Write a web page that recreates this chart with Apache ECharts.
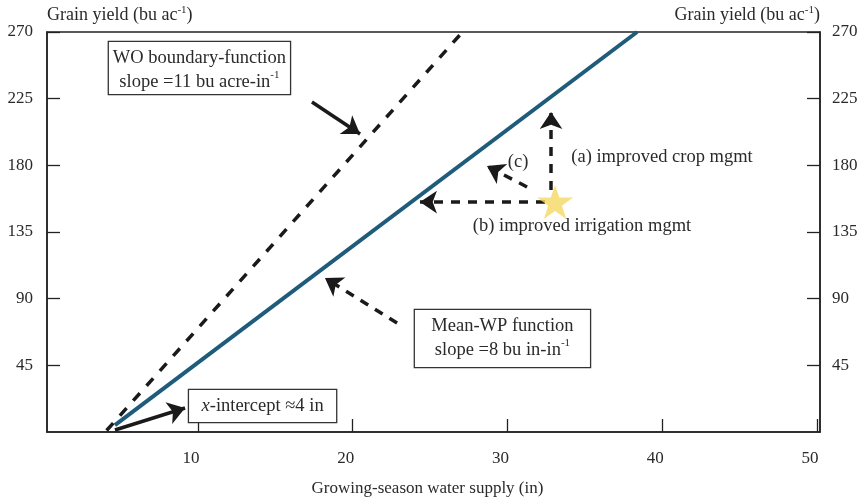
<!DOCTYPE html>
<html>
<head>
<meta charset="utf-8">
<script src="https://cdn.jsdelivr.net/npm/echarts@6/dist/echarts.min.js"></script>
<style>html,body{margin:0;padding:0;background:#fff;}#c{width:863px;height:501px;}</style>
</head>
<body>
<div id="c"></div>
<script>
// ---- data ----
var xTicks = [10, 20, 30, 40, 50];
var yTicks = [45, 90, 135, 180, 225, 270];
var meanWP = [[4.64, 4.7], [38.38, 270]];          // Mean-WP function (solid)
var woBoundary = [[4.1, 1], [27.1, 270]];          // WO boundary function (dashed)
var starPoint = [[33.08, 155.2]];                  // current yield point
// arrows: [from, to]
var arrowA = [[32.82, 163.3], [32.82, 216]];
var arrowB = [[32.43, 155.2], [24.35, 155.2]];
var arrowC = [[31.27, 165.4], [28.68, 179.5]];
var arrowMean = [[22.87, 73.6], [18.21, 103.9]];
var arrowWO = [[17.37, 222.7], [20.48, 201.1]];
var arrowXint = [[4.64, 1.35], [9.17, 16.2]];
// annotation anchor points
var boxWO = [10.1, 245.7];
var boxMean = [29.68, 63.1];
var boxXint = [14.18, 17.5];
var textA = [39.99, 185.6];
var textB = [34.82, 139.0];
var textC = [30.69, 182.2];

var FONT = '"Liberation Serif", "DejaVu Serif", serif';
var TC = '#2a2a2a';
var AF = 18.5;
var supRich = {
  sup: { fontSize: 11, fontFamily: FONT, color: TC, verticalAlign: 'top', lineHeight: 12 },
  it: { fontSize: AF, fontFamily: FONT, color: TC, fontStyle: 'italic' }
};

var chart = echarts.init(document.getElementById('c'), null, { renderer: 'canvas' });

function arrowSeries(pts, dashed) {
  return {
    type: 'lines', coordinateSystem: 'cartesian2d', silent: true, z: 5,
    symbol: ['none', 'arrow'], symbolSize: [0, 17],
    lineStyle: { color: '#1a1a1a', width: 3.5, type: dashed ? [9, 8] : 'solid', opacity: 1 },
    data: [{ coords: pts }]
  };
}

function boxLabel(coord, text, w, h) {
  return {
    coord: coord, symbol: 'rect', symbolSize: 0,
    label: {
      show: true, position: 'inside', formatter: text,
      width: w, height: h, align: 'center', verticalAlign: 'middle', padding: [4, 7],
      fontFamily: FONT, fontSize: AF, color: TC, lineHeight: 24,
      backgroundColor: '#fff', borderColor: '#333', borderWidth: 1.3,
      rich: supRich
    }
  };
}
function plainLabel(coord, text) {
  return {
    coord: coord, symbol: 'rect', symbolSize: 0,
    label: {
      show: true, position: 'inside', formatter: text,
      fontFamily: FONT, fontSize: AF, color: TC, rich: supRich
    }
  };
}

var option = {
  animation: false,
  backgroundColor: '#fff',
  grid: { left: 47, right: 43, top: 32, bottom: 69, outerBoundsMode: 'none', containLabel: false,
    show: true, borderColor: '#222', borderWidth: 1.5, backgroundColor: 'transparent' },
  xAxis: {
    type: 'value', min: 0.25, max: 50.2,
    axisLine: { show: true, lineStyle: { color: '#222', width: 1.5 } },
    axisTick: { show: true, inside: true, length: 13, customValues: xTicks, lineStyle: { color: '#222', width: 1.3 } },
    axisLabel: { customValues: xTicks, fontFamily: FONT, fontSize: 17, color: TC, margin: 18, padding: [0, 14, 0, 0] },
    splitLine: { show: false },
    name: 'Growing-season water supply (in)', nameLocation: 'middle', nameGap: 48,
    nameTextStyle: { fontFamily: FONT, fontSize: 17, color: TC, padding: [0, 12, 0, 0] }
  },
  yAxis: [{
    type: 'value', min: 0, max: 270, interval: 45, position: 'left',
    axisLine: { show: true, lineStyle: { color: '#222', width: 1.5 } },
    axisTick: { show: true, inside: true, length: 13, lineStyle: { color: '#222', width: 1.3 } },
    axisLabel: { fontFamily: FONT, fontSize: 17, color: TC, margin: 14, showMinLabel: false,
      formatter: function (v) { return yTicks.indexOf(v) >= 0 ? String(v) : ''; } },
    splitLine: { show: false },
    name: 'Grain yield (bu ac{sup|-1})', nameLocation: 'end', nameGap: 17,
    nameTextStyle: { fontFamily: FONT, fontSize: 18, color: TC, align: 'left', verticalAlign: 'middle', lineHeight: 20, rich: supRich }
  }, {
    type: 'value', min: 0, max: 270, interval: 45, position: 'right',
    axisLine: { show: true, lineStyle: { color: '#222', width: 1.5 } },
    axisTick: { show: true, inside: true, length: 13, lineStyle: { color: '#222', width: 1.3 } },
    axisLabel: { fontFamily: FONT, fontSize: 17, color: TC, margin: 12, showMinLabel: false,
      formatter: function (v) { return yTicks.indexOf(v) >= 0 ? String(v) : ''; } },
    splitLine: { show: false },
    name: 'Grain yield (bu ac{sup|-1})', nameLocation: 'end', nameGap: 17,
    nameTextStyle: { fontFamily: FONT, fontSize: 18, color: TC, align: 'right', verticalAlign: 'middle', lineHeight: 20, rich: supRich }
  }],
  series: [
    {
      type: 'line', data: woBoundary, showSymbol: false, silent: true, z: 3,
      lineStyle: { color: '#1a1a1a', width: 3.5, type: [10, 10] }
    },
    {
      type: 'line', data: meanWP, showSymbol: false, silent: true, z: 3,
      lineStyle: { color: '#1f5b7b', width: 4 }
    },
    arrowSeries(arrowA, true),
    arrowSeries(arrowB, true),
    arrowSeries(arrowC, true),
    arrowSeries(arrowMean, true),
    arrowSeries(arrowWO, false),
    arrowSeries(arrowXint, false),
    {
      type: 'scatter', data: starPoint, silent: true, z: 10,
      symbol: 'path://M50,0 L61.8,35.1 L100,35.1 L69.1,57.6 L80.9,95.1 L50,72.6 L19.1,95.1 L30.9,57.6 L0,35.1 L38.2,35.1 Z',
      symbolSize: [36, 34], itemStyle: { color: '#f5d862' }
    },
    {
      type: 'scatter', data: [], silent: true, z: 12,
      markPoint: {
        silent: true, animation: false,
        data: [
          boxLabel(boxWO, 'WO boundary-function\nslope =11 bu acre-in{sup|-1}', 167, 44),
          boxLabel(boxMean, 'Mean-WP function\nslope =8 bu in-in{sup|-1}', 161, 49),
          boxLabel(boxXint, '{it|x}-intercept \u22484 in', 133, 24),
          plainLabel(textA, '(a) improved crop mgmt'),
          plainLabel(textB, '(b) improved irrigation mgmt'),
          plainLabel(textC, '(c)')
        ]
      }
    }
  ]
};
chart.setOption(option);
</script>
</body>
</html>
